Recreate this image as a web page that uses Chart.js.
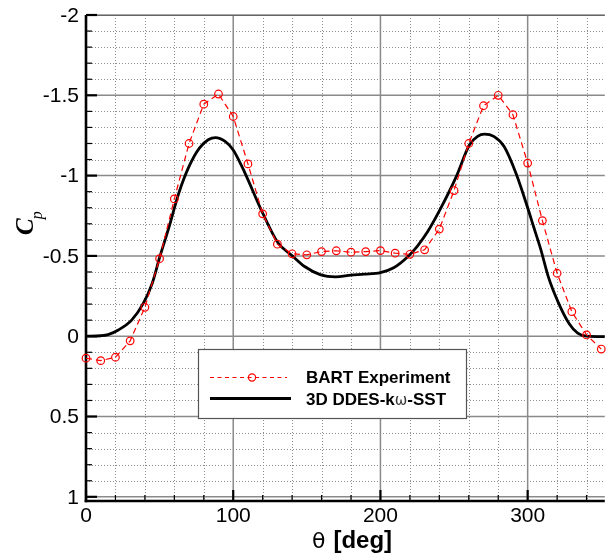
<!DOCTYPE html>
<html><head><meta charset="utf-8">
<script src="https://cdn.jsdelivr.net/npm/chart.js@4.4.1/dist/chart.umd.min.js"></script>
<style>html,body{margin:0;padding:0;background:#fff}#wrap{width:610px;height:556px}</style>
</head><body><div id="wrap"><canvas id="c" width="610" height="556"></canvas></div>
<script>
// ---- data ----
const expTheta = [0,10,20,30,40,50,60,70,80,90,100,110,120,130,140,150,160,170,180,190,200,210,220,230,240,250,260,270,280,290,300,310,320,330,340,350];
const expCp = [0.137,0.152,0.131,0.029,-0.18,-0.483,-0.855,-1.20,-1.445,-1.508,-1.368,-1.073,-0.762,-0.573,-0.513,-0.507,-0.527,-0.532,-0.523,-0.527,-0.533,-0.517,-0.51,-0.538,-0.667,-0.907,-1.20,-1.435,-1.50,-1.379,-1.078,-0.72,-0.392,-0.153,-0.008,0.08];
const cfdTheta = [0,10,15,22,31,39,45,50,56.5,63,70,77,83,88,94.5,100,108,119,130.5,139.5,148.5,159.5,169.5,180,189,200,209,218,225,232,240,251.5,260.5,266,270.5,277,284,292,300,304,309,314,321,328,334,340,352.5];
const cfdCp = [0,-0.003,-0.01,-0.039,-0.10,-0.206,-0.33,-0.49,-0.683,-0.89,-1.057,-1.171,-1.223,-1.237,-1.213,-1.16,-1.016,-0.787,-0.58,-0.506,-0.434,-0.382,-0.37,-0.38,-0.386,-0.396,-0.426,-0.49,-0.56,-0.65,-0.78,-0.994,-1.192,-1.244,-1.258,-1.244,-1.181,-1.016,-0.80,-0.683,-0.538,-0.371,-0.206,-0.081,-0.019,0,0.003];
const seriesNames = ['BART Experiment','3D DDES-k\u03c9-SST'];
const xMajorTicks = [0,100,200,300];
const yMajorTicks = [-2,-1.5,-1,-0.5,0,0.5,1];
const xMinorStep = 20;     // deg
const yMinorStepTenths = 1; // 0.1
const xTitleSym = '\u03b8';
const xTitleText = '[deg]';
const yTitleMain = 'C';
const yTitleSub = 'p';

const RED = '#ff0000';

const gridPlugin = {
  id: 'gridPlugin',
  beforeDatasetsDraw(chart) {
    const {ctx, chartArea: a, scales: {x, y}} = chart;
    const line = (x1, y1, x2, y2) => { ctx.beginPath(); ctx.moveTo(x1, y1); ctx.lineTo(x2, y2); ctx.stroke(); };
    ctx.save();
    // minor dotted grid
    ctx.strokeStyle = '#8e8e8e'; ctx.lineWidth = 1; ctx.setLineDash([1, 2]);
    for (let v = 0; v <= x.max; v += xMinorStep) {
      if (v % 100 === 0) continue;
      const px = Math.round(x.getPixelForValue(v)) + 0.5;
      line(px, a.top, px, a.bottom);
    }
    for (let t = -20; t <= 10; t += yMinorStepTenths) {
      if (t % 5 === 0) continue;
      const py = Math.round(y.getPixelForValue(t / 10)) + 0.5;
      line(a.left, py, a.right, py);
    }
    // major solid grid
    ctx.setLineDash([]);
    ctx.strokeStyle = '#8a8a8a'; ctx.lineWidth = 1.5;
    xMajorTicks.forEach(v => { if (v === 0) return; const px = x.getPixelForValue(v); line(px, a.top, px, a.bottom); });
    yMajorTicks.forEach(v => { const py = y.getPixelForValue(v); line(a.left, py, a.right, py); });
    // top frame
    ctx.strokeStyle = '#666'; ctx.lineWidth = 1.2;
    line(a.left, a.top + 0.5, a.right, a.top + 0.5);
    // tick marks
    ctx.strokeStyle = '#000';
    ctx.lineWidth = 1.2;
    for (let t = -20; t <= 10; t += yMinorStepTenths) {
      if (t % 5 === 0) continue;
      const py = y.getPixelForValue(t / 10);
      line(a.left, py, a.left + 6, py);
    }
    for (let v = 0; v <= x.max; v += xMinorStep) {
      if (v % 100 === 0) continue;
      const px = x.getPixelForValue(v);
      line(px, a.bottom, px, a.bottom - 6);
    }
    ctx.lineWidth = 2.2;
    yMajorTicks.forEach(v => { const py = y.getPixelForValue(v); line(a.left, py, a.left + 11, py); });
    xMajorTicks.forEach(v => { const px = x.getPixelForValue(v); line(px, a.bottom, px, a.bottom - 11); });
    // axes
    ctx.lineWidth = 2.6;
    line(a.left, a.top, a.left, a.bottom + 1.3);
    line(a.left - 1.3, a.bottom, a.right, a.bottom);
    ctx.restore();
  },
  afterDatasetsDraw(chart) {
    const {ctx} = chart;
    ctx.save();
    // legend box
    const bx = 198, by = 349, bw = 268, bh = 69;
    ctx.fillStyle = '#fff';
    ctx.fillRect(bx, by, bw, bh);
    ctx.strokeStyle = '#555'; ctx.lineWidth = 1.2;
    ctx.strokeRect(bx + 0.5, by + 0.5, bw, bh);
    // entry 1
    ctx.strokeStyle = RED; ctx.lineWidth = 1.2; ctx.setLineDash([4, 3.5]);
    ctx.beginPath(); ctx.moveTo(210, 377.5); ctx.lineTo(287, 377.5); ctx.stroke();
    ctx.setLineDash([]);
    ctx.beginPath(); ctx.arc(252, 377.5, 3.6, 0, Math.PI * 2); ctx.stroke();
    // entry 2
    ctx.strokeStyle = '#000'; ctx.lineWidth = 2.8;
    ctx.beginPath(); ctx.moveTo(210, 398.5); ctx.lineTo(291, 398.5); ctx.stroke();
    ctx.fillStyle = '#000';
    ctx.textBaseline = 'alphabetic'; ctx.textAlign = 'left';
    ctx.font = 'bold 17px "Liberation Sans", Arial, sans-serif';
    ctx.fillText(seriesNames[0], 306, 383);
    // second label with a lighter omega
    const parts = seriesNames[1].split('\u03c9');
    let tx = 306;
    ctx.fillText(parts[0], tx, 405); tx += ctx.measureText(parts[0]).width;
    ctx.font = '15px "DejaVu Sans", sans-serif';
    ctx.fillStyle = '#333';
    ctx.fillText('\u03c9', tx, 405); tx += ctx.measureText('\u03c9').width;
    ctx.fillStyle = '#000';
    ctx.font = 'bold 17px "Liberation Sans", Arial, sans-serif';
    ctx.fillText(parts[1], tx, 405);

    // x title
    ctx.font = '22px "DejaVu Sans", sans-serif';
    const w1 = ctx.measureText(xTitleSym).width;
    ctx.font = 'bold 24px "Liberation Sans", Arial, sans-serif';
    const w2 = ctx.measureText(xTitleText).width;
    const gap = 8;
    let sx = 352 - (w1 + gap + w2) / 2;
    ctx.font = '22px "DejaVu Sans", sans-serif';
    ctx.fillText(xTitleSym, sx, 548);
    ctx.font = 'bold 24px "Liberation Sans", Arial, sans-serif';
    ctx.fillText(xTitleText, sx + w1 + gap, 548);

    // y title (rotated)
    ctx.translate(33, 235);
    ctx.rotate(-Math.PI / 2);
    ctx.font = 'bold italic 25px "Liberation Serif", serif';
    ctx.fillText(yTitleMain, 0, 0);
    const cw = ctx.measureText(yTitleMain).width;
    ctx.font = 'italic 16px "Liberation Serif", serif';
    ctx.fillText(yTitleSub, cw - 1, 9);
    ctx.restore();
  }
};

new Chart(document.getElementById('c'), {
  type: 'scatter',
  data: {
    datasets: [
      {
        label: seriesNames[1],
        data: cfdTheta.map((t, i) => ({x: t, y: cfdCp[i]})),
        showLine: true,
        borderColor: '#000',
        borderWidth: 2.8,
        pointRadius: 0,
        cubicInterpolationMode: 'monotone',
        order: 2
      },
      {
        label: seriesNames[0],
        data: expTheta.map((t, i) => ({x: t, y: expCp[i]})),
        showLine: true,
        borderColor: RED,
        borderWidth: 1.2,
        borderDash: [6, 4],
        pointRadius: 3.8,
        pointBorderColor: RED,
        pointBackgroundColor: 'rgba(0,0,0,0)',
        pointBorderWidth: 1.2,
        clip: false,
        order: 1
      }
    ]
  },
  options: {
    responsive: false,
    animation: false,
    devicePixelRatio: 1,
    layout: {padding: {left: 0, right: 0, top: 15, bottom: 0}},
    plugins: {legend: {display: false}, tooltip: {enabled: false}},
    scales: {
      x: {
        type: 'linear', min: 0, max: 352.4,
        afterBuildTicks: s => { s.ticks = xMajorTicks.map(v => ({value: v})); },
        afterFit: s => { s.height = 55; s.paddingLeft = 0; s.paddingRight = 0; },
        grid: {display: false, drawTicks: false},
        border: {display: false},
        ticks: {
          autoSkip: false, maxRotation: 0, padding: 3, color: '#000',
          font: {family: '"Liberation Sans", Arial, sans-serif', size: 21},
          callback: v => String(v)
        }
      },
      y: {
        type: 'linear', reverse: true, min: -2, max: 1.026,
        afterBuildTicks: s => { s.ticks = yMajorTicks.map(v => ({value: v})); },
        afterFit: s => { s.width = 86; s.paddingTop = 0; s.paddingBottom = 0; },
        grid: {display: false, drawTicks: false},
        border: {display: false},
        ticks: {
          autoSkip: false, padding: 7, labelOffset: 1, color: '#000',
          font: {family: '"Liberation Sans", Arial, sans-serif', size: 21},
          callback: v => String(v)
        }
      }
    }
  },
  plugins: [gridPlugin]
});
</script>
</body></html>
